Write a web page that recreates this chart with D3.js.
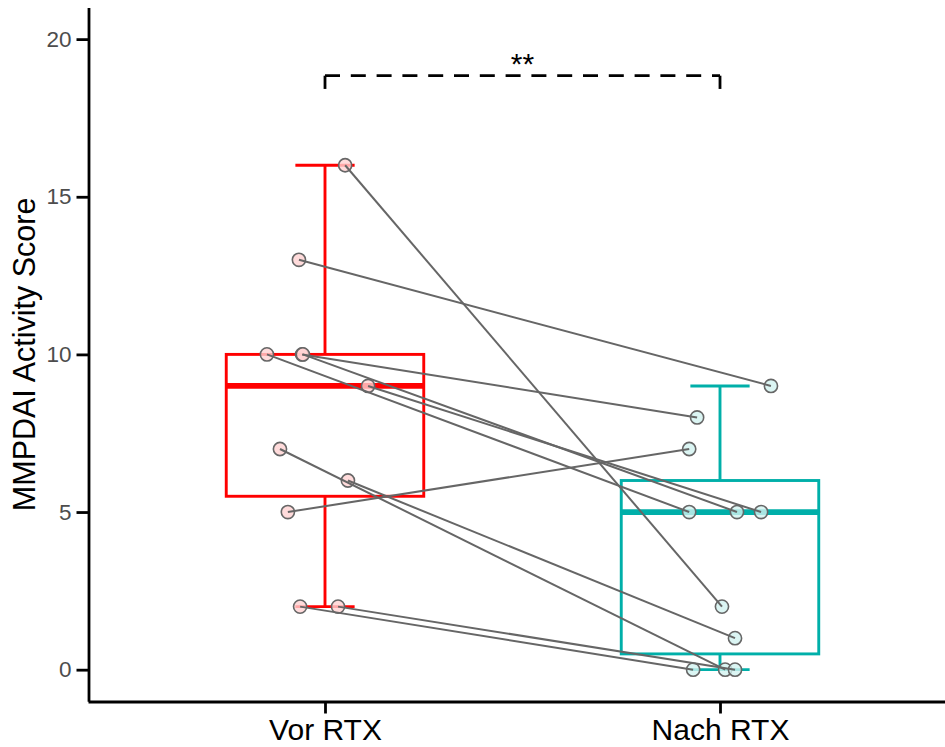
<!DOCTYPE html>
<html>
<head>
<meta charset="utf-8">
<script src="https://cdn.jsdelivr.net/npm/d3@7"></script>
<style>
  html, body { margin: 0; padding: 0; background: #fff; }
  svg { display: block; }
  text { font-family: "Liberation Sans", Arial, sans-serif; }
</style>
</head>
<body>
<svg id="chart" width="945" height="747"></svg>
<script>
// Paired MMPDAI activity scores before and after rituximab
const categories = ["Vor RTX", "Nach RTX"];
const vorValues  = [16, 13, 10, 10, 10, 9, 7, 6, 5, 2, 2];
const nachValues = [2, 9, 5, 8, 5, 5, 0, 1, 7, 0, 0];
// horizontal jitter of each patient's point (in category units)
const vorJitter  = [0.051, -0.066, -0.147, -0.058, -0.056, 0.109, -0.114, 0.058, -0.094, -0.063, 0.033];
const nachJitter = [0.005, 0.129, -0.078, -0.058, 0.043, 0.104, 0.013, 0.038, -0.078, -0.068, 0.038];
const yTicks = [0, 5, 10, 15, 20];
const yTitle = "MMPDAI Activity Score";
const signifLabel = "**";
const groupColors = ["#FF0000", "#00AFA9"];
const pointFills = ["#FFD2D2", "#D2F2F0"];

const svg = d3.select("#chart");

const x = d3.scaleLinear().domain([0.4, 2.6]).range([88, 957]);
const y = d3.scaleLinear().domain([-1, 21]).range([701.2, 7.6]);

const groups = [
  { name: categories[0], pos: 1, values: vorValues, jitter: vorJitter, color: groupColors[0], fill: pointFills[0] },
  { name: categories[1], pos: 2, values: nachValues, jitter: nachJitter, color: groupColors[1], fill: pointFills[1] }
];

function boxStats(vals) {
  const s = vals.slice().sort(d3.ascending);
  const q1 = d3.quantileSorted(s, 0.25);
  const med = d3.quantileSorted(s, 0.5);
  const q3 = d3.quantileSorted(s, 0.75);
  const iqr = q3 - q1;
  const lo = d3.min(s.filter(v => v >= q1 - 1.5 * iqr));
  const hi = d3.max(s.filter(v => v <= q3 + 1.5 * iqr));
  return { q1, med, q3, lo, hi };
}

// boxplots
const boxW = 0.25, capW = 0.075, lw = 2.9;
groups.forEach(g => {
  const st = boxStats(g.values);
  const gb = svg.append("g").attr("stroke", g.color).attr("fill", "none");
  // whiskers
  gb.append("line").attr("x1", x(g.pos)).attr("x2", x(g.pos)).attr("y1", y(st.q3)).attr("y2", y(st.hi)).attr("stroke-width", lw);
  gb.append("line").attr("x1", x(g.pos)).attr("x2", x(g.pos)).attr("y1", y(st.q1)).attr("y2", y(st.lo)).attr("stroke-width", lw);
  // caps
  [st.hi, st.lo].forEach(v => {
    gb.append("line").attr("x1", x(g.pos - capW)).attr("x2", x(g.pos + capW))
      .attr("y1", y(v)).attr("y2", y(v)).attr("stroke-width", lw);
  });
  // box
  gb.append("rect").attr("x", x(g.pos - boxW)).attr("y", y(st.q3))
    .attr("width", x(g.pos + boxW) - x(g.pos - boxW)).attr("height", y(st.q1) - y(st.q3))
    .attr("fill", "#fff").attr("stroke-width", lw);
  // median
  gb.append("line").attr("x1", x(g.pos - boxW)).attr("x2", x(g.pos + boxW))
    .attr("y1", y(st.med)).attr("y2", y(st.med)).attr("stroke-width", lw * 2);
});

// points
groups.forEach(g => {
  svg.append("g").selectAll("circle").data(g.values).join("circle")
    .attr("cx", (d, i) => x(g.pos + g.jitter[i]))
    .attr("cy", d => y(d))
    .attr("r", 6.6)
    .attr("fill", g.fill)
    .attr("fill-opacity", 0.8)
    .attr("stroke", "#666")
    .attr("stroke-width", 1.6);
});

// paired lines
const pairs = vorValues.map((v, i) => [
  [x(1 + vorJitter[i]), y(v)],
  [x(2 + nachJitter[i]), y(nachValues[i])]
]);
svg.append("g").selectAll("path").data(pairs).join("path")
  .attr("d", d => d3.line()(d))
  .attr("fill", "none")
  .attr("stroke", "#666")
  .attr("stroke-width", 2);

// y axis
const yAxis = d3.axisLeft(y).tickValues(yTicks).tickSize(12).tickSizeOuter(0).tickPadding(5);
const gy = svg.append("g").attr("transform", "translate(88.5,0)").call(yAxis);
gy.select(".domain").attr("stroke", "#000").attr("stroke-width", 2.8);
gy.selectAll(".tick line").attr("stroke", "#000").attr("stroke-width", 2.8);
gy.selectAll(".tick text").attr("fill", "#4D4D4D").attr("font-size", 22.5)
  .attr("font-family", "Liberation Sans, Arial, sans-serif");

// x axis
const xAxis = d3.axisBottom(x).tickValues([1, 2]).tickFormat(d => categories[d - 1])
  .tickSize(12).tickSizeOuter(0).tickPadding(5);
const gx = svg.append("g").attr("transform", "translate(0,701.5)").call(xAxis);
gx.select(".domain").attr("stroke", "#000").attr("stroke-width", 2.8);
gx.selectAll(".tick line").attr("stroke", "#000").attr("stroke-width", 2.8);
gx.selectAll(".tick text").attr("fill", "#000").attr("font-size", 30)
  .attr("font-family", "Liberation Sans, Arial, sans-serif");

// y title
svg.append("text")
  .attr("transform", `translate(35,${(y(-1) + y(21)) / 2}) rotate(-90)`)
  .attr("text-anchor", "middle")
  .attr("font-size", 30.5)
  .attr("fill", "#000")
  .text(yTitle);

// significance bracket
const bTop = 18.84, bTip = 18.42;
const gs = svg.append("g").attr("stroke", "#000").attr("stroke-width", 2.8).attr("fill", "none");
gs.append("line").attr("x1", x(1)).attr("x2", x(1)).attr("y1", y(bTop)).attr("y2", y(bTip));
gs.append("line").attr("x1", x(2)).attr("x2", x(2)).attr("y1", y(bTop)).attr("y2", y(bTip));
gs.append("line").attr("x1", x(1)).attr("x2", x(2)).attr("y1", y(bTop)).attr("y2", y(bTop))
  .attr("stroke-dasharray", "15,10.8");
svg.append("text")
  .attr("x", (x(1) + x(2)) / 2)
  .attr("y", 74)
  .attr("text-anchor", "middle")
  .attr("font-size", 30)
  .attr("fill", "#000")
  .text(signifLabel);
</script>
</body>
</html>
